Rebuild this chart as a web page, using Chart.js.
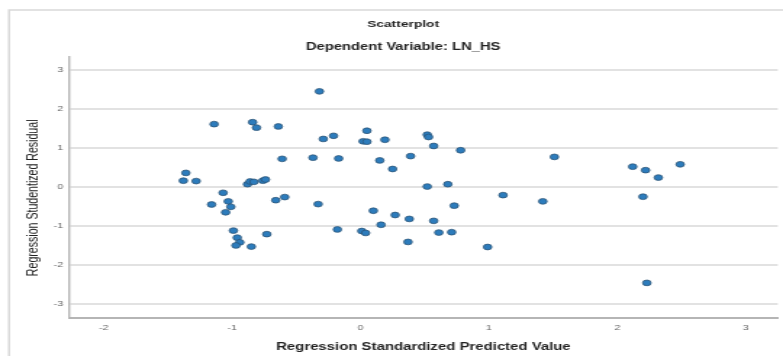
<!DOCTYPE html>
<html>
<head>
<meta charset="utf-8">
<script src="https://cdn.jsdelivr.net/npm/chart.js@4/dist/chart.umd.min.js"></script>
<style>
  html, body { margin: 0; padding: 0; background: #fff; }
  #wrap { width: 783px; height: 356px; }
</style>
</head>
<body>
<div id="wrap">
  <!-- the original export is stretched sideways, so draw narrow and stretch with css -->
  <canvas id="chart" width="540" height="356" style="width:783px;height:356px"></canvas>
</div>
<script>
// Regression Standardized Predicted Value (x) vs Studentized Residual (y)
const predicted = [
  -0.32, -1.14, -0.84, -0.81, -0.64, -0.29, -0.21, 0.05, 0.02, 0.05, 0.19, 0.52, 0.53, 0.57, 0.78,
  -0.61, -0.37, -0.17, 0.15, 0.39, 0.25,
  -1.36, -1.38, -1.28, -0.88, -0.86, -0.83, -0.76, -0.74,
  0.52, 0.68,
  -1.07, -1.16, -1.03, -1.01, -1.05,
  -0.66, -0.59, -0.33,
  0.10, 0.27, 0.38, 0.16, 0.57, 0.73,
  -0.99, -0.96, -0.94, -0.97, -0.85, -0.73,
  -0.18, 0.01, 0.04, 0.37, 0.61, 0.71,
  1.51, 2.12, 2.22, 2.32, 2.49,
  1.11, 1.42, 2.20,
  0.99, 2.23
];
const residual = [
  2.46, 1.62, 1.67, 1.53, 1.56, 1.24, 1.32, 1.45, 1.18, 1.17, 1.22, 1.35, 1.29, 1.06, 0.95,
  0.73, 0.76, 0.74, 0.69, 0.80, 0.47,
  0.37, 0.17, 0.16, 0.08, 0.15, 0.14, 0.17, 0.20,
  0.02, 0.08,
  -0.14, -0.44, -0.36, -0.50, -0.64,
  -0.33, -0.25, -0.43,
  -0.60, -0.71, -0.81, -0.96, -0.86, -0.47,
  -1.11, -1.29, -1.41, -1.49, -1.52, -1.20,
  -1.08, -1.12, -1.17, -1.40, -1.16, -1.15,
  0.78, 0.53, 0.44, 0.25, 0.59,
  -0.20, -0.36, -0.24,
  -1.53, -2.45
];

const points = predicted.map((x, i) => ({ x: x, y: residual[i] }));

// light grey frame round the whole chart, like the SPSS output box
const frame = {
  id: 'frame',
  beforeDraw(chart) {
    const c = chart.ctx;
    c.save();
    c.strokeStyle = '#d9d9d9';
    c.lineWidth = 1.5;
    c.strokeRect(6.2, 10, 600, 400);
    c.restore();
  },
  // titles sit centred over the (wider) original box, not the canvas
  afterLayout(chart) {
    chart.boxes.forEach(b => {
      if (!b.axis && b.position === 'top') {
        b.left += 8;
        b.right += 8;
      }
    });
  }
};

const ctx = document.getElementById('chart').getContext('2d');

const chart = new Chart(ctx, {
  type: 'scatter',
  data: {
    datasets: [{
      data: points,
      backgroundColor: '#2d7cbc',
      borderColor: '#2a4f6e',
      borderWidth: 0.7,
      pointRadius: 2.9,
      pointHoverRadius: 2.9
    }]
  },
  options: {
    responsive: false,
    animation: false,
    layout: { padding: 0 },
    plugins: {
      legend: { display: false },
      tooltip: { enabled: false },
      title: {
        display: true,
        text: 'Scatterplot',
        color: '#222',
        font: { family: 'Liberation Sans', size: 9.5, weight: 'bold' },
        padding: { top: 18.3, bottom: 11.2 }
      },
      subtitle: {
        display: true,
        text: 'Dependent Variable: LN_HS',
        color: '#222',
        font: { family: 'Liberation Sans', size: 10.2, weight: 'bold' },
        padding: { top: 0, bottom: 3.9 }
      }
    },
    scales: {
      x: {
        type: 'linear',
        min: -2.27,
        max: 3.25,
        afterFit(scale) { scale.height = 38; },
        ticks: {
          stepSize: 1,
          includeBounds: false,
          padding: 5,
          color: '#666',
          font: { family: 'Liberation Sans', size: 7.5 }
        },
        grid: { display: false, drawTicks: false },
        border: { display: true, color: '#b5b5b5', width: 2 },
        title: {
          display: true,
          text: 'Regression Standardized Predicted Value',
          color: '#222',
          font: { family: 'Liberation Sans', size: 10.3, weight: 'bold' },
          padding: { top: 0, bottom: 2.8 }
        }
      },
      y: {
        type: 'linear',
        min: -3.35,
        max: 3.34,
        afterFit(scale) { scale.width = 47.6; },
        ticks: {
          stepSize: 1,
          includeBounds: false,
          padding: 4,
          color: '#666',
          font: { family: 'Liberation Sans', size: 7.5 }
        },
        grid: { color: '#e2e2e2', lineWidth: 2, drawTicks: false },
        border: { display: true, color: '#b5b5b5', width: 1.4 },
        title: {
          display: true,
          text: 'Regression Studentized Residual       ',
          color: '#222',
          font: { family: 'Liberation Sans', size: 10.6 },
          padding: { top: 16.5, bottom: 0 }
        }
      }
    }
  },
  plugins: [frame]
});
</script>
</body>
</html>
